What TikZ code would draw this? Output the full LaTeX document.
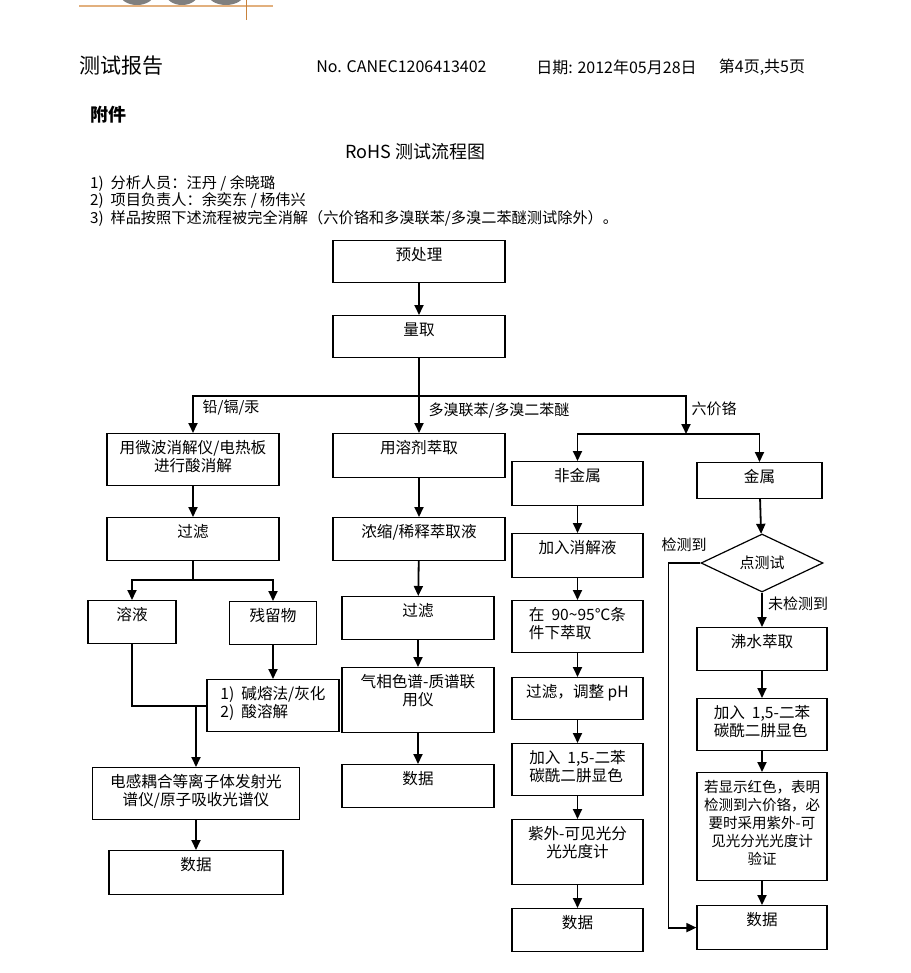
\documentclass[tikz,border=0pt]{standalone}
\usepackage{fontspec}
\setmainfont{Noto Sans CJK SC}
\usetikzlibrary{arrows.meta,shapes.geometric}

\definecolor{logogrey}{HTML}{7F7F7F}
\definecolor{logoline}{HTML}{E2B07E}
\definecolor{logomark}{HTML}{C8823C}

\tikzset{
  stepbox/.style n args={3}{draw, line width=1.2pt, minimum width=#1, minimum height=#2,
    inner xsep=4pt, inner ysep=0pt, text height=2pt+18pt*#3, text depth=#2-2pt-18pt*#3,
    align=center, font=\fontsize{15.6}{18}\selectfont},
  decision/.style={draw, diamond, aspect=2.1, line width=1.2pt, inner sep=0pt,
    minimum width=122pt, minimum height=58pt},
  arrow/.style={line width=1.8pt, -{Triangle[length=10pt,width=9pt]}},
  link/.style={line width=1.8pt},
  tag/.style={inner sep=0pt},
}

\begin{document}
\begin{tikzpicture}[x=1pt, y=-1pt, font=\fontsize{15}{18}\selectfont]
\useasboundingbox (0,0) rectangle (910,973);

\begin{scope}
  \clip (0,0) rectangle (910,973);
  \fill[logogrey] (137,-6) ellipse [x radius=17, y radius=11];
  \fill[logogrey] (182,-6) ellipse [x radius=16, y radius=11];
  \fill[logogrey] (226,-6) ellipse [x radius=18, y radius=11];
  \draw[logoline, line width=2pt] (79,6) -- (273,6);
  \draw[logomark, line width=1pt] (246,0) -- (246,20);
\end{scope}

\node[tag, font=\fontsize{21}{24}\selectfont] (title) at (121.5,66) {测试报告};
\node[tag, font=\fontsize{16}{18}\selectfont] (reportno) at (401.5,67) {No. CANEC1206413402};
\node[tag, font=\fontsize{16}{18}\selectfont] (date) at (616.5,67) {日期: 2012年05月28日};
\node[tag, font=\fontsize{16}{18}\selectfont] (page) at (762,67) {第4页,共5页};
\node[tag, font=\fontsize{18}{20}\selectfont\bfseries] (annex) at (108,115) {附件};
\node[tag, font=\fontsize{18}{20}\selectfont] (heading) at (415.5,152) {RoHS 测试流程图};
\node[tag, anchor=north west, align=left, font=\fontsize{15.2}{17.5}\selectfont] (notes) at (90,175)
  {1)\ \ 分析人员：汪丹 / 余晓璐\\
   2)\ \ 项目负责人：余奕东 / 杨伟兴\\
   3)\ \ 样品按照下述流程被完全消解（六价铬和多溴联苯/多溴二苯醚测试除外）。};

\node[stepbox={172pt}{42pt}{1}, anchor=north] (pre) at (419,240) {预处理};
\node[stepbox={172pt}{42pt}{1}, anchor=north] (meas) at (419,315) {量取};

\node[stepbox={172pt}{52pt}{2}, anchor=north] (mw) at (193,433) {用微波消解仪/电热板\\进行酸消解};
\node[stepbox={172pt}{43pt}{1}, anchor=north] (filt1) at (193,517) {过滤};
\node[stepbox={88pt}{43pt}{1}, anchor=north] (sol) at (132,600) {溶液};
\node[stepbox={87pt}{43pt}{1}, anchor=north] (res) at (273,601) {残留物};
\node[stepbox={132pt}{52pt}{2}, anchor=north, align=left] (alk) at (273,679) {1)\ \ 碱熔法/灰化\\2)\ \ 酸溶解};
\node[stepbox={207pt}{52pt}{2}, anchor=north] (icp) at (196,767) {电感耦合等离子体发射光\\谱仪/原子吸收光谱仪};
\node[stepbox={174pt}{44pt}{1}, anchor=north] (data1) at (196,850) {数据};

\node[stepbox={172pt}{44pt}{1}, anchor=north] (solv) at (419,433) {用溶剂萃取};
\node[stepbox={172pt}{43pt}{1}, anchor=north] (conc) at (419,517) {浓缩/稀释萃取液};
\node[stepbox={152pt}{43pt}{1}, anchor=north] (filt2) at (418,596) {过滤};
\node[stepbox={152pt}{65pt}{2}, anchor=north] (gcms) at (418,667) {气相色谱-质谱联\\用仪};
\node[stepbox={152pt}{43pt}{1}, anchor=north] (data2) at (418,764) {数据};

\node[stepbox={131pt}{44pt}{1}, anchor=north] (nm) at (577.5,461) {非金属};
\node[stepbox={131pt}{44pt}{1}, anchor=north] (dig) at (577.5,533) {加入消解液};
\node[stepbox={131pt}{52pt}{2}, anchor=north, align=left] (ext) at (577.5,600) {在\ \ 90\textasciitilde95℃条\\件下萃取};
\node[stepbox={131pt}{42pt}{1}, anchor=north] (adj) at (577.5,677) {过滤，调整 pH};
\node[stepbox={131pt}{52pt}{2}, anchor=north, align=left] (col1) at (577.5,743) {加入\ \ 1,5-二苯\\碳酰二肼显色};
\node[stepbox={131pt}{65pt}{2}, anchor=north] (uv) at (577.5,819) {紫外-可见光分\\光光度计};
\node[stepbox={131pt}{43pt}{1}, anchor=north] (data3) at (577.5,908) {数据};

\node[stepbox={125pt}{36pt}{1}, anchor=north] (met) at (759.5,462) {金属};
\node[decision] (spot) at (762,563) {点测试};
\node[stepbox={130pt}{43pt}{1}, anchor=north] (boil) at (762,627) {沸水萃取};
\node[stepbox={130pt}{52pt}{2}, anchor=north, align=left] (col2) at (762,698) {加入\ \ 1,5-二苯\\碳酰二肼显色};
\node[stepbox={130pt}{108pt}{5}, anchor=north, font=\fontsize{14.5}{18}\selectfont] (red) at (762,772)
  {若显示红色，表明\\检测到六价铬，必\\要时采用紫外-可\\见光分光光度计\\验证};
\node[stepbox={130pt}{44pt}{1}, anchor=north] (data4) at (762,905) {数据};

\node[tag] (lblmetal) at (231,408) {铅/镉/汞};
\node[tag] (lblflame) at (499,411) {多溴联苯/多溴二苯醚};
\node[tag] (lblchrom) at (714,409) {六价铬};
\node[tag] (lblyes) at (684,545) {检测到};
\node[tag] (lblno) at (798,604) {未检测到};

\coordinate (split) at (419,396);
\coordinate (crsplit) at (686,434);
\coordinate (mwsplit) at (193,580);
\coordinate (merge) at (196,705);

\draw[arrow] (pre) -- (meas);
\draw[link] (meas) -- (split);
\draw[arrow] (split) -| (mw);
\draw[arrow] (split) -- (solv);
\draw[arrow] (split) -| (crsplit);
\draw[arrow] (crsplit) -| (nm);
\draw[arrow] (crsplit) -| (met);

\draw[arrow] (mw) -- (filt1);
\draw[link] (filt1) -- (mwsplit);
\draw[arrow] (mwsplit) -| (sol);
\draw[arrow] (mwsplit) -| (res);
\draw[arrow] (res) -- (alk);
\draw[link] (sol) |- (alk);
\draw[arrow] (merge) -- (icp);
\draw[arrow] (icp) -- (data1);

\foreach \a/\b in {solv/conc, conc/filt2, filt2/gcms, gcms/data2,
                   nm/dig, dig/ext, ext/adj, adj/col1, col1/uv, uv/data3,
                   met/spot, spot/boil, boil/col2, col2/red, red/data4}
  \draw[arrow] (\a) -- (\b);
\draw[arrow] (spot.west) -- ++(-32,0) |- (data4);

\end{tikzpicture}
\end{document}
